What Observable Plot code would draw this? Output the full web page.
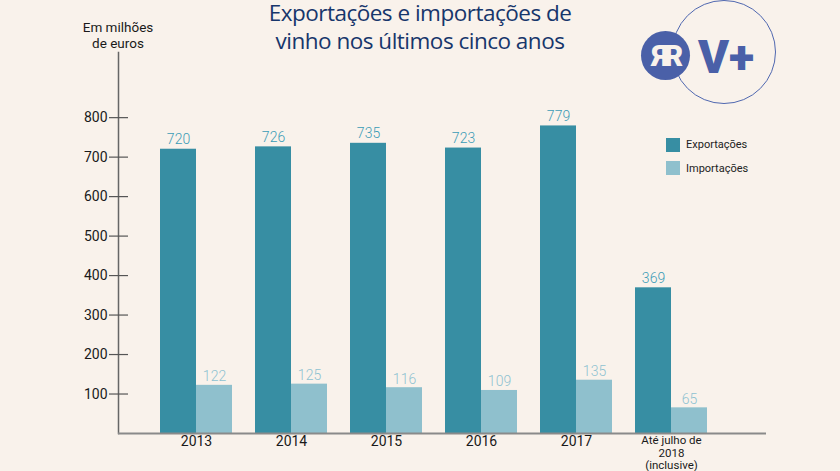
<!DOCTYPE html>
<html><head><meta charset="utf-8">
<script src="https://cdn.jsdelivr.net/npm/d3@7"></script>
<script src="https://cdn.jsdelivr.net/npm/@observablehq/plot@0.6"></script>
<style>
html,body{margin:0;padding:0;background:#f9f2eb;}
#wrap{position:relative;width:840px;height:471px;overflow:hidden;font-family:Roboto,sans-serif;background:#f9f2eb;}
#chart{position:absolute;left:0;top:0;}
#title{position:absolute;left:0;top:-1px;width:840px;text-align:center;font-family:"Open Sans",sans-serif;font-size:22.5px;letter-spacing:-0.5px;line-height:28px;color:#17366b;}
#unit{position:absolute;left:68px;width:100px;top:19px;text-align:center;font-size:13.5px;line-height:16px;color:#1a1a1a;}
#legend{position:absolute;left:666px;top:137px;font-size:11px;color:#222;}
.li{display:flex;align-items:center;height:15px;margin-bottom:8.5px;}
.sw{width:14px;height:14px;margin-right:6px;}
#logo{position:absolute;left:0;top:0;}
</style></head>
<body>
<div id="wrap">
  <div id="chart"></div>
  <div id="title">Exportações e importações de<br>vinho nos últimos cinco anos</div>
  <div id="unit">Em milhões<br>de euros</div>
  <div id="legend"></div>
  <svg id="logo" width="840" height="120">
    <circle cx="724" cy="52" r="51.5" fill="none" stroke="#5068b0" stroke-width="1"/>
    <circle cx="665.5" cy="55.5" r="24.5" fill="#4a60a8"/>
    <text x="665.5" y="66" font-family="Roboto" font-weight="900" font-size="29" letter-spacing="-4" fill="#f9f2eb" text-anchor="middle">ЯR</text>
    <text x="726" y="73" font-family="Roboto" font-weight="900" font-size="47" fill="#4a60a8" text-anchor="middle">V+</text>
  </svg>
</div>
<script>
const years = ["2013", "2014", "2015", "2016", "2017", "Até julho de\n2018\n(inclusive)"];
const exportacoes = [720, 726, 735, 723, 779, 369];
const importacoes = [122, 125, 116, 109, 135, 65];
const seriesNames = ["Exportações", "Importações"];
const yTicks = [100, 200, 300, 400, 500, 600, 700, 800];

const colExp = "#378ea3", colImp = "#8fc0cd";
const colExpText = "#3b9bb6", colImpText = "#8fc2d1";

const rows = years.map((y, i) => ({year: y, exp: exportacoes[i], imp: importacoes[i]}));

const chart = Plot.plot({
  width: 840, height: 471,
  marginLeft: 118, marginRight: 74, marginTop: 52, marginBottom: 38,
  style: {background: "transparent", fontFamily: "Roboto, sans-serif"},
  x: {domain: years, range: [147.25, 720.25], paddingInner: 0.246, paddingOuter: 0.123, axis: null},
  y: {domain: [0, 965], axis: null},
  marks: [
    Plot.barY(rows, {x: "year", y: "exp", fill: colExp, insetRight: 36}),
    Plot.barY(rows, {x: "year", y: "imp", fill: colImp, insetLeft: 36}),
    Plot.text(rows, {x: "year", y: "exp", text: d => String(d.exp), dx: -18, dy: -5, lineAnchor: "bottom", fill: colExpText, fontSize: 14, fontWeight: 300}),
    Plot.text(rows, {x: "year", y: "imp", text: d => String(d.imp), dx: 18, dy: -4, lineAnchor: "bottom", fill: colImpText, fontSize: 14, fontWeight: 300}),
    Plot.frame({anchor: "left", stroke: "#666", strokeWidth: 1.5}),
    Plot.ruleY([0], {stroke: "#8a8a8a", strokeWidth: 2}),
    Plot.axisY(yTicks, {tickSize: 9, tickPadding: 2, fontSize: 14, color: "#1a1a1a", stroke: "#555", strokeWidth: 1.2}),
    Plot.axisY(yTicks, {tickSize: -10, tickFormat: () => "", stroke: "#555", strokeWidth: 1.2}),
    Plot.text(years, {x: d => d, frameAnchor: "bottom", lineAnchor: "top", dy: 2,
      fontSize: d => d.length > 4 ? 11.5 : 14, lineHeight: 1.08, fill: "#1a1a1a"})
  ]
});
document.getElementById("chart").appendChild(chart);

const legend = document.getElementById("legend");
[colExp, colImp].forEach((c, i) => {
  const el = document.createElement("div");
  el.className = "li";
  el.innerHTML = `<div class="sw" style="background:${c}"></div><span>${seriesNames[i]}</span>`;
  legend.appendChild(el);
});
</script>
</body></html>
